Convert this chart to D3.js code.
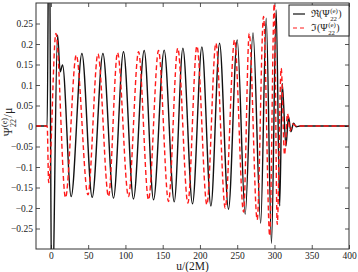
<!DOCTYPE html>
<html>
<head>
<meta charset="utf-8">
<script src="https://cdn.jsdelivr.net/npm/d3@7"></script>
<style>
  body { margin: 0; background: #fff; }
  text { font-family: "Liberation Serif", "DejaVu Serif", serif; fill: #222; }
</style>
</head>
<body>
<svg id="chart"></svg>
<script>
// waveform turning points (u/(2M), value)
var realU = [-20, -5, -2.5, 1.3, 8.9, 12.5, 15.6, 27.2, 41.6, 55.4, 69.8, 84.0, 97.4, 110.8, 125.2, 137.7,
             152.0, 165.5, 177.1, 190.0, 202.6, 214.7, 226.3, 238.3, 250.0, 260.7, 271.2, 281.5, 288.9,
             296.0, 302.3, 307.0, 310.4, 315.4, 318.8, 322.1, 325.6, 329.2, 334.5, 400];
var realV = [0, 0, 0.6, -0.5, 0.222, 0.132, 0.149, -0.172, 0.177, -0.174, 0.177, -0.176, 0.181, -0.178, 0.184, -0.180,
             0.185, -0.185, 0.190, -0.190, 0.193, -0.195, 0.202, -0.203, 0.210, -0.215, 0.227, -0.237, 0.263,
             -0.286, 0.283, -0.195, 0.104, -0.049, 0.023, -0.014, 0.007, -0.002, 0, 0];

var imagU = [-20, -5, -3, 6.7, 19.6, 34.0, 49.7, 63.1, 77.3, 89.4, 104.1, 117.6, 131.0, 144.4, 157.8, 170.2,
             183.8, 195.9, 209.3, 221.4, 233.9, 246.4, 258.5, 266.1, 276.8, 285.3, 293.6, 299.7, 303.7,
             309.0, 313.5, 317.5, 321.1, 324.5, 329.2, 400];
var imagV = [0, 0, -0.138, 0.226, -0.175, 0.173, -0.168, 0.176, -0.172, 0.179, -0.172, 0.181, -0.180, 0.184, -0.184, 0.190,
             -0.188, 0.195, -0.192, 0.202, -0.200, 0.210, -0.210, 0.226, -0.229, 0.267, -0.268, 0.298, -0.24,
             0.141, -0.07, 0.03, -0.012, 0.005, 0, 0];

var xTicks = [0, 50, 100, 150, 200, 250, 300, 350, 400];
var yTicks = [-0.25, -0.2, -0.15, -0.1, -0.05, 0, 0.05, 0.1, 0.15, 0.2, 0.25];

// basic settings
var width = 358, height = 272;
var margin = {top: 3, right: 9, bottom: 23, left: 36};
var iw = width - margin.left - margin.right;
var ih = height - margin.top - margin.bottom;

var svg = d3.select("#chart").attr("width", width).attr("height", height);

var x = d3.scaleLinear().domain([-20, 400]).range([0, iw]);
var y = d3.scaleLinear().domain([-0.3, 0.3]).range([ih, 0]);

var g = svg.append("g").attr("transform", "translate(" + margin.left + "," + margin.top + ")");

g.append("clipPath").attr("id", "clip")
  .append("rect").attr("width", iw).attr("height", ih);

// axes, ticks pointing inward on all four sides
var fmt = d3.format("");
g.append("g").attr("transform", "translate(0," + ih + ")")
  .call(d3.axisBottom(x).tickValues(xTicks).tickSizeInner(-4).tickSizeOuter(0).tickPadding(3).tickFormat(fmt));
g.append("g")
  .call(d3.axisTop(x).tickValues(xTicks).tickSizeInner(-4).tickSizeOuter(0).tickFormat(""));
g.append("g")
  .call(d3.axisLeft(y).tickValues(yTicks).tickSizeInner(-4).tickSizeOuter(0).tickPadding(3).tickFormat(fmt));
g.append("g").attr("transform", "translate(" + iw + ",0)")
  .call(d3.axisRight(y).tickValues(yTicks).tickSizeInner(-4).tickSizeOuter(0).tickFormat(""));

g.selectAll(".domain").remove();
g.selectAll(".tick line").attr("stroke", "#555");
g.selectAll(".tick text").attr("font-size", 9.5).attr("font-family", "Liberation Serif").attr("fill", "#333");

var line = d3.line()
  .x(function(d) { return x(d[0]); })
  .y(function(d) { return y(d[1]); })
  .curve(d3.curveMonotoneX);

var plot = g.append("g").attr("clip-path", "url(#clip)");
plot.append("path")
  .datum(d3.zip(realU, realV))
  .attr("d", line)
  .attr("fill", "none")
  .attr("stroke", "#111")
  .attr("stroke-width", 1.4);
plot.append("path")
  .datum(d3.zip(imagU, imagV))
  .attr("d", line)
  .attr("fill", "none")
  .attr("stroke", "#ff1a1a")
  .attr("stroke-width", 1.4)
  .attr("stroke-dasharray", "5,3");

// frame
g.append("rect").attr("width", iw).attr("height", ih)
  .attr("fill", "none").attr("stroke", "#333").attr("stroke-width", 1);

// helper: base text with stacked super/subscript and tail
function psiLabel(sel, head, tail, fs) {
  var t = sel.append("text").attr("font-size", fs).text(head);
  var w = t.node().getComputedTextLength();
  var sup = sel.append("text").attr("x", w + 0.5).attr("y", -fs * 0.38).attr("font-size", fs * 0.68).text("(e)");
  var sub = sel.append("text").attr("x", w + 0.5).attr("y", fs * 0.35).attr("font-size", fs * 0.68).text("22");
  var w2 = Math.max(sup.node().getComputedTextLength(), sub.node().getComputedTextLength());
  var tl = sel.append("text").attr("x", w + w2 + 1).attr("font-size", fs).text(tail);
  return w + w2 + 1 + tl.node().getComputedTextLength();
}

// legend
var lg = svg.append("g").attr("transform", "translate(" + (margin.left + iw - 60) + "," + (margin.top + 2) + ")");
lg.append("rect").attr("width", 60).attr("height", 31)
  .attr("fill", "#fff").attr("stroke", "#222").attr("stroke-width", 1);
lg.append("line").attr("x1", 4).attr("x2", 16).attr("y1", 9).attr("y2", 9)
  .attr("stroke", "#111").attr("stroke-width", 1.2);
lg.append("line").attr("x1", 4).attr("x2", 16).attr("y1", 23).attr("y2", 23)
  .attr("stroke", "#ff1a1a").attr("stroke-width", 1.2).attr("stroke-dasharray", "4,3");
psiLabel(lg.append("g").attr("transform", "translate(22,12)"), "\u211C(\u03A8", ")", 10);
psiLabel(lg.append("g").attr("transform", "translate(22,26)"), "\u2111(\u03A8", ")", 10);

// axis titles
svg.append("text")
  .attr("x", margin.left + iw / 2).attr("y", 270)
  .attr("text-anchor", "middle").attr("font-size", 11.5)
  .text("u/(2M)");

var yl = svg.append("g");
var lw = psiLabel(yl, "\u03A8", "/\u03BC", 12);
yl.attr("transform", "translate(12," + (122 + lw / 2) + ") rotate(-90)");
</script>
</body>
</html>
